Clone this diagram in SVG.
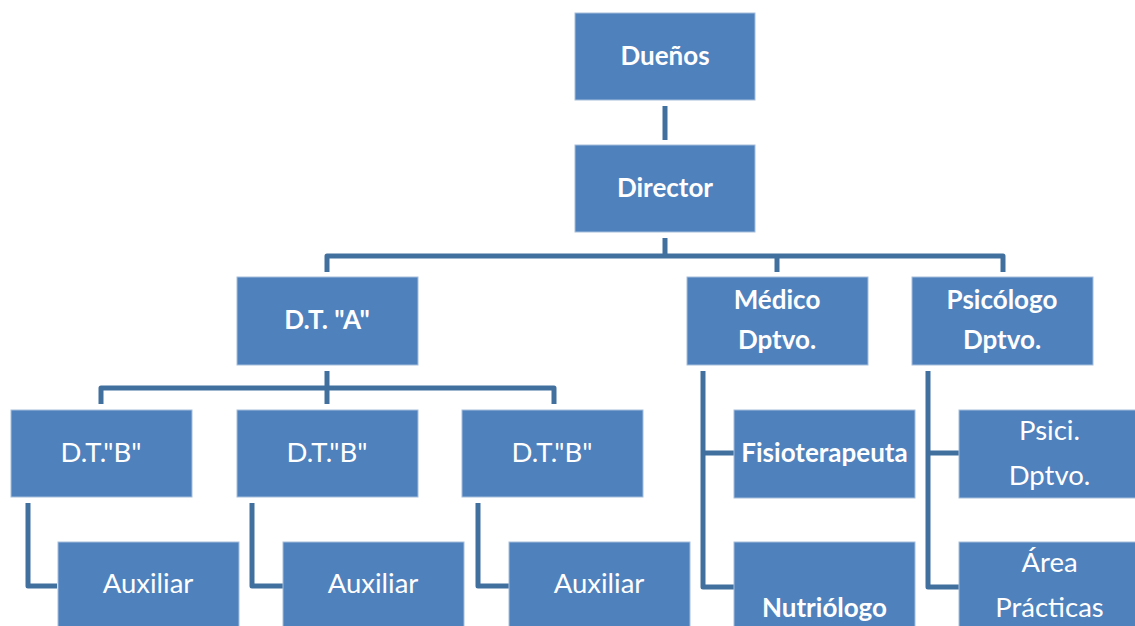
<svg xmlns="http://www.w3.org/2000/svg" width="1135" height="626" viewBox="0 0 1135 626">
<style>
.box{fill:#4F81BD;stroke:#A7BEDC;stroke-width:1}
.c{fill:none;stroke:#41709F;stroke-width:5;stroke-linejoin:round}
.t{font-family:Lato,"Open Sans",sans-serif;fill:#fff;text-anchor:middle;font-size:27.5px}
.b{font-weight:bold;font-size:26px}
</style>
<rect width="1135" height="626" fill="#fff"/>
<g id="connectors">
<path class="c" d="M665 106V140"/>
<path class="c" d="M665 238V256"/>
<path class="c" d="M327 272V256H1003V272"/>
<path class="c" d="M777 256V272"/>
<path class="c" d="M327 371V404"/>
<path class="c" d="M101 404V388H554V404"/>
<path class="c" d="M28 503V586H57"/>
<path class="c" d="M252 503V586H283"/>
<path class="c" d="M478 503V586H509"/>
<path class="c" d="M703 371V587H734"/>
<path class="c" d="M703 453H734"/>
<path class="c" d="M928 371V587H959"/>
<path class="c" d="M928 453H959"/>
</g>
<g id="duenos"><rect class="box" x="575" y="13" width="180" height="87"/><text class="t b" x="665" y="65">Dueños</text></g>
<g id="director"><rect class="box" x="575" y="145" width="180" height="87"/><text class="t b" x="665" y="197">Director</text></g>
<g id="dta"><rect class="box" x="237" y="277" width="181" height="88"/><text class="t b" x="327" y="329">D.T. "A"</text></g>
<g id="medico"><rect class="box" x="687" y="277" width="181" height="88"/><text class="t b" x="777" y="309">Médico</text><text class="t b" x="777" y="349">Dptvo.</text></g>
<g id="psicologo"><rect class="box" x="912" y="277" width="181" height="88"/><text class="t b" x="1002" y="309">Psicólogo</text><text class="t b" x="1002" y="349">Dptvo.</text></g>
<g id="dtb1"><rect class="box" x="11" y="410" width="181" height="87"/><text class="t" x="101" y="462">D.T."B"</text></g>
<g id="dtb2"><rect class="box" x="237" y="410" width="181" height="87"/><text class="t" x="327" y="462">D.T."B"</text></g>
<g id="dtb3"><rect class="box" x="462" y="410" width="181" height="87"/><text class="t" x="552" y="462">D.T."B"</text></g>
<g id="aux1"><rect class="box" x="58" y="542" width="181" height="88"/><text class="t" x="148" y="593">Auxiliar</text></g>
<g id="aux2"><rect class="box" x="283" y="542" width="181" height="88"/><text class="t" x="373" y="593">Auxiliar</text></g>
<g id="aux3"><rect class="box" x="509" y="542" width="181" height="88"/><text class="t" x="599" y="593">Auxiliar</text></g>
<g id="fisio"><rect class="box" x="734" y="410" width="181" height="88"/><text class="t b" x="824.5" y="462">Fisioterapeuta</text></g>
<g id="nutri"><rect class="box" x="734" y="542" width="181" height="88"/><text class="t b" x="824.5" y="617">Nutriólogo</text></g>
<g id="psici"><rect class="box" x="959" y="410" width="181" height="88"/><text class="t" x="1049.5" y="440">Psici.</text><text class="t" x="1049.5" y="485">Dptvo.</text></g>
<g id="area"><rect class="box" x="959" y="542" width="181" height="88"/><text class="t" x="1049.5" y="572">Área</text><text class="t" x="1049.5" y="617">Prácticas</text></g>
</svg>
